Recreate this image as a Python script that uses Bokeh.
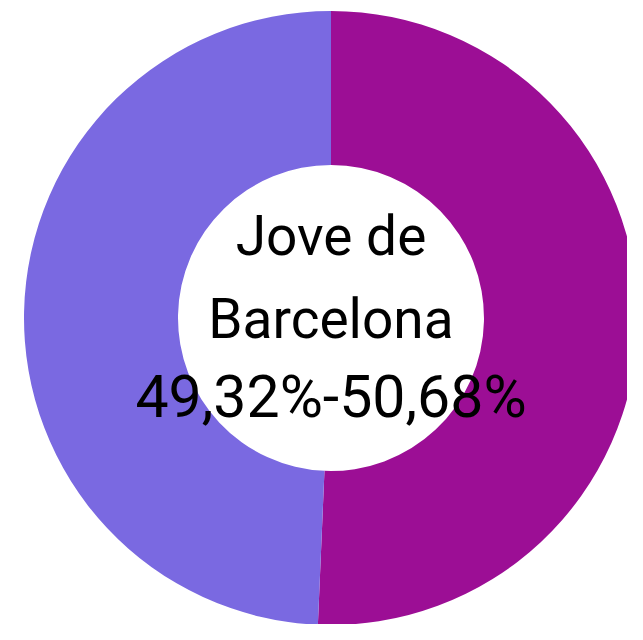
from bokeh.plotting import figure
from bokeh.models import ColumnDataSource, Range1d
from bokeh.core.properties import value
from bokeh.embed import file_html
from bokeh.resources import INLINE
import math

# data
slices = ["50,68%", "49,32%"]
shares = [50.68, 49.32]
colors = ["#9C0E95", "#7A69E1"]
center_lines = ["Jove de", "Barcelona", "49,32%-50,68%"]

W, H = 627, 624
cx, cy = 330.5, H - 317.5
r_out, r_in = 307, 153

# angles: start at top, go clockwise
starts, ends = [], []
acc = 0.0
for s in shares:
    a0 = math.pi / 2 - 2 * math.pi * (acc + s) / 100.0
    a1 = math.pi / 2 - 2 * math.pi * acc / 100.0
    starts.append(a0)
    ends.append(a1)
    acc += s

src = ColumnDataSource(dict(x=[cx] * len(shares), y=[cy] * len(shares),
                            start=starts, end=ends, color=colors, name=slices))

p = figure(width=W, height=H, output_backend="svg", toolbar_location=None,
           x_range=Range1d(0, W), y_range=Range1d(0, H), min_border=0)
p.axis.visible = False
p.grid.visible = False
p.outline_line_color = None
p.background_fill_color = "white"
p.border_fill_color = "white"

p.annular_wedge(x="x", y="y", inner_radius=r_in, outer_radius=r_out,
                start_angle="start", end_angle="end", color="color",
                line_color=None, source=src)

baselines = [235, 318, 396]
sizes = ["55px", "55px", "59px"]
tsrc = ColumnDataSource(dict(
    x=[cx] * len(center_lines),
    y=[H - b for b in baselines],
    t=center_lines, fs=sizes))
p.text(x="x", y="y", text="t", source=tsrc, text_font=value("Roboto"),
       text_font_size="fs", text_align="center", text_baseline="alphabetic",
       text_color="black")

open("out.html", "w").write(file_html(p, INLINE))
